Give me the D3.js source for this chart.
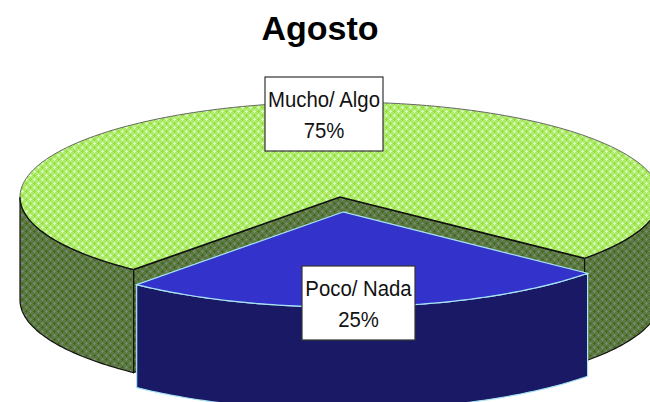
<!DOCTYPE html>
<html><head><meta charset="utf-8">
<script src="https://cdn.jsdelivr.net/npm/d3@7/dist/d3.min.js"></script>
<style>html,body{margin:0;padding:0;background:#fff}svg{display:block}</style>
</head><body><svg id="c" width="650" height="402"></svg>
<script>
const categories = ["Mucho/ Algo", "Poco/ Nada"];
const values = [75, 25];
const percentLabels = ["75%", "25%"];
const chartTitle = "Agosto";

const W = 650, H = 402;
const cx = 340, cy = 197, rx = 320, ry = 95, depth = 103;
const offset = [[0, 0], [3, 15]];
const tops = ["url(#gTop)", "#3333cc"];
const sides = ["url(#gSide)", "#191966"];
const strokes = ["#111", "#a8e4f4"];
const labelBoxes = [[265, 77, 118, 74], [302, 266, 113, 74]];

const svg = d3.select("#c");
const defs = svg.append("defs");
function trellis(id, bg, light, dark) {
  const p = defs.append("pattern").attr("id", id).attr("patternUnits", "userSpaceOnUse").attr("width", 8).attr("height", 8);
  p.append("rect").attr("width", 8).attr("height", 8).attr("fill", bg);
  [[2, 2], [6, 6]].forEach(c => {
    p.append("rect").attr("x", c[0] - 1).attr("y", c[1]).attr("width", 3).attr("height", 1).attr("fill", light);
    p.append("rect").attr("x", c[0]).attr("y", c[1] - 1).attr("width", 1).attr("height", 3).attr("fill", light);
  });
  [[6, 2], [2, 6]].forEach(c => {
    p.append("rect").attr("x", c[0] - 1).attr("y", c[1]).attr("width", 3).attr("height", 1).attr("fill", dark);
    p.append("rect").attr("x", c[0]).attr("y", c[1] - 1).attr("width", 1).attr("height", 3).attr("fill", dark);
  });
}
trellis("gTop", "#b0ec6c", "#d8ffc0", "#94dc42");
trellis("gSide", "#5c7944", "#748c70", "#46681c");

// angle 0 = straight down on screen; the first slice starts at the right corner of the cut
const pie = d3.pie().sort(null).value(d => d).startAngle(0.87).endAngle(0.87 + 2 * Math.PI);
const arcs = pie(values);
const clip = defs.append("clipPath").attr("id", "page");
clip.append("rect").attr("width", W).attr("height", H);
const root = svg.append("g").attr("clip-path", "url(#page)");

const px = a => rx * Math.sin(a);
const py = a => ry * Math.cos(a);
const line = d3.line();
function rim(a0, a1) {
  const n = Math.max(2, Math.ceil(Math.abs(a1 - a0) * 60));
  return d3.range(n + 1).map(i => { const a = a0 + (a1 - a0) * i / n; return [px(a), py(a)]; });
}
arcs.forEach((d, i) => {
  const g = root.append("g").attr("transform", `translate(${cx + offset[i][0]},${cy + offset[i][1]})`);
  const outline = rim(d.startAngle, d.endAngle);
  const segs = [];
  if (i === 0) {
    segs.push(outline.filter(p => p[1] >= 0 && p[0] < 0), outline.filter(p => p[1] >= 0 && p[0] > 0));
    const pa = outline[0], pb = outline[outline.length - 1];
    [pa, pb].forEach(q => {
      g.append("path").attr("d", line([[0, 0], q, [q[0], q[1] + depth], [0, depth]]))
        .attr("fill", sides[i]).attr("stroke", "#1c2a10").attr("stroke-width", 1.2);
    });
  } else segs.push(outline.filter(p => p[1] >= 0));
  segs.forEach(s => {
    const wall = s.concat(s.slice().reverse().map(p => [p[0], p[1] + depth]));
    g.append("path").attr("d", line(wall) + "Z").attr("fill", sides[i])
      .attr("stroke", strokes[i]).attr("stroke-width", 1.2).attr("stroke-linejoin", "round");
  });
  g.append("path").attr("d", line([[0, 0]].concat(outline)) + "Z").attr("fill", tops[i])
    .attr("stroke", i ? strokes[i] : "none").attr("stroke-width", 1.2);
  if (i === 0) {
    g.append("path").attr("d", line(outline)).attr("fill", "none").attr("stroke", "#666").attr("stroke-width", 1);
    segs.forEach(s => g.append("path").attr("d", line(s)).attr("fill", "none").attr("stroke", "#111").attr("stroke-width", 1.3));
    g.append("path").attr("d", line([outline[outline.length - 1], [0, 0], outline[0]])).attr("fill", "none").attr("stroke", "#111").attr("stroke-width", 1.6);
  }
});

categories.forEach((c, i) => {
  const b = labelBoxes[i];
  root.append("rect").attr("x", b[0]).attr("y", b[1]).attr("width", b[2]).attr("height", b[3])
    .attr("fill", "#fff").attr("stroke", "#333").attr("stroke-width", 1.2);
  const mid = b[0] + b[2] / 2;
  [[c, 30], [percentLabels[i], 61]].forEach(t => {
    root.append("text").attr("transform", `translate(${mid},${b[1] + t[1]}) scale(0.925,1)`).text(t[0])
      .attr("text-anchor", "middle").attr("font-family", "Liberation Sans").attr("font-size", 22).attr("fill", "#111");
  });
});

svg.append("text").attr("x", 320).attr("y", 40).text(chartTitle).attr("text-anchor", "middle")
  .attr("font-family", "Liberation Sans").attr("font-weight", "bold").attr("font-size", 34).attr("fill", "#000");
</script></body></html>
